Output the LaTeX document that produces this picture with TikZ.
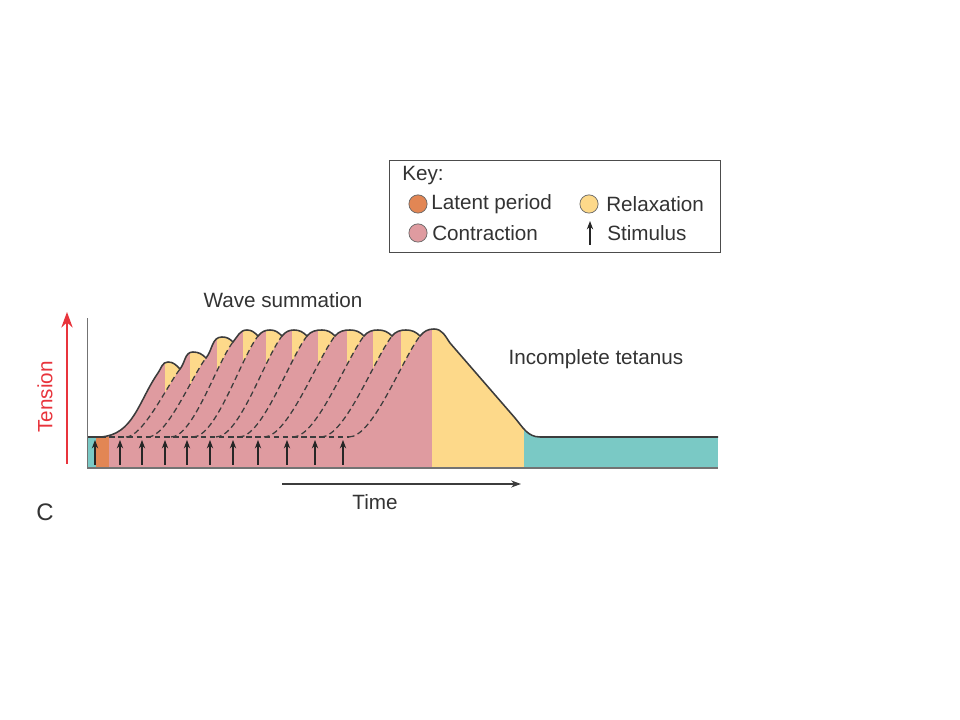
\documentclass[tikz,border=0pt]{standalone}
\usepackage{fontspec}
\setmainfont{Liberation Sans}
\usepackage{tikz}
\usetikzlibrary{arrows.meta}
\definecolor{restteal}{RGB}{122,201,197}
\definecolor{latentorange}{RGB}{226,134,84}
\definecolor{contractpink}{RGB}{223,155,160}
\definecolor{relaxyellow}{RGB}{253,217,138}
\definecolor{tensionred}{RGB}{232,52,60}
\definecolor{curvegray}{RGB}{60,60,60}
\tikzstyle{lbl} = [font=\fontsize{14.7}{17}\selectfont, text=black!80, inner sep=0pt]
\tikzstyle{stimarrow} = [black!85, line width=0.8pt, -{Stealth[length=6pt,width=4.5pt]}]
\tikzstyle{twitchdash} = [curvegray, line width=0.9pt, dash pattern=on 4pt off 2.5pt]
\tikzstyle{twitchrise} = [out=0, in=232, out looseness=0.5, in looseness=0.6]
\tikzstyle{bumpup} = [out=50, in=180]
\tikzstyle{bumpdown} = [out=0, in=135]
\tikzstyle{keydot} = [circle, draw=black!60, line width=0.5pt, minimum size=13pt, inner sep=0pt]

% outline of the summed tension record
\newcommand{\tensioncurve}{(87,283) -- (100,283) to[out=3,in=235] (158,347) to[out=55,in=180] (168,358)
  to[bumpdown] (180,351) to[bumpup] (193,368)
  to[bumpdown] (206,362) to[bumpup] (222,383)
  to[bumpdown] (233,378) to[bumpup] (247,390)
  to[bumpdown] (258,384) to[bumpup] (270,390)
  to[bumpdown] (282,384) to[bumpup] (294,390)
  to[bumpdown] (307,384) to[bumpup] (322,390)
  to[bumpdown] (335,384) to[bumpup] (350,390)
  to[bumpdown] (364,384) to[bumpup] (378,390)
  to[bumpdown] (392,384) to[bumpup] (406,390)
  to[bumpdown] (420,384) to[bumpup] (434,391)
  to[out=0,in=125] (450,377) -- (515,302) to[out=-50,in=180] (540,283) -- (718,283)}

\begin{document}
\begin{tikzpicture}[x=0.025cm, y=0.025cm]
\useasboundingbox (0,0) rectangle (960,720);

% Coloured phases under the record
\begin{scope}
\clip \tensioncurve -- (718,252) -- (87,252) -- cycle;
\fill[contractpink] (96,252) rectangle (432,420);
\fill[latentorange] (96,252) rectangle (109,283);
\fill[restteal] (87,252) rectangle (96,283);
\fill[relaxyellow] (432,252) rectangle (524,420);
\fill[restteal] (524,252) rectangle (718,420);
% relaxation of each twitch
\foreach \v/\fx/\dx/\dy in {165/126/180/351, 190/148/206/362, 217/171/233/378, 243/193/258/384, 266/216/282/384,
  292/239/307/384, 318/264/335/384, 347/293/364/384, 373/321/392/384, 401/349/420/384}
{
  \begin{scope}
  \clip (\v,252) rectangle (\dx,420);
  \fill[relaxyellow] (\fx,283) to[twitchrise] (\dx,\dy) -- (\dx,420) -- (\fx,420) -- cycle;
  \end{scope}
}
\end{scope}

% Single twitches (dashed)
\draw[twitchdash] (100,283) -- (349,283);
\foreach \fx/\dx/\dy in {126/180/351, 148/206/362, 171/233/378, 193/258/384, 216/282/384,
  239/307/384, 264/335/384, 293/364/384, 321/392/384, 349/420/384}
  \draw[twitchdash] (\fx,283) to[twitchrise] (\dx,\dy);

% Record and axes
\draw[curvegray, line width=1.1pt] \tensioncurve;
\draw[black!55, line width=0.8pt] (87,252) -- (718,252);
\draw[black!55, line width=0.6pt] (87,252) -- (87,402);

% Stimuli
\foreach \s in {95,120,142,165,187,210,233,258,287,315,343}
  \draw[stimarrow] (\s,255) -- (\s,280);

% Axis arrows and labels
\coordinate (tensionbot) at (67,256);
\coordinate (tensiontop) at (67,408);
\draw[tensionred, line width=1.6pt, -{Stealth[length=11pt,width=8pt]}] (tensionbot) -- (tensiontop);
\node[lbl, text=tensionred, rotate=90] (tension) at (45,323) {Tension};
\coordinate (timestart) at (282,236);
\coordinate (timeend) at (521,236);
\draw[curvegray, line width=1pt, -{Stealth[length=7pt,width=5pt]}] (timestart) -- (timeend);
\node[lbl] (time) at (375,218) {Time};
\node[lbl, font=\fontsize{17}{19}\selectfont] (panel) at (45,208) {C};
\node[lbl] (wave) at (283,420) {Wave summation};
\node[lbl] (tetanus) at (596,361) {Incomplete tetanus};

% Key
\draw[black!70, line width=0.7pt] (389,467) rectangle (720,559);
\node[lbl, anchor=west] (keytitle) at (402,544) {Key:};
\node[keydot, fill=latentorange] (keylatent) at (418,516) {};
\node[lbl, anchor=west] at (431,516) {Latent period};
\node[keydot, fill=contractpink] (keycontract) at (418,487) {};
\node[lbl, anchor=west] at (432,487) {Contraction};
\node[keydot, fill=relaxyellow] (keyrelax) at (589,516) {};
\node[lbl, anchor=west] at (606,516) {Relaxation};
\coordinate (keystimbot) at (590,475);
\coordinate (keystimtop) at (590,499);
\draw[stimarrow] (keystimbot) -- (keystimtop);
\node[lbl, anchor=west] at (607,487) {Stimulus};
\end{tikzpicture}
\end{document}
